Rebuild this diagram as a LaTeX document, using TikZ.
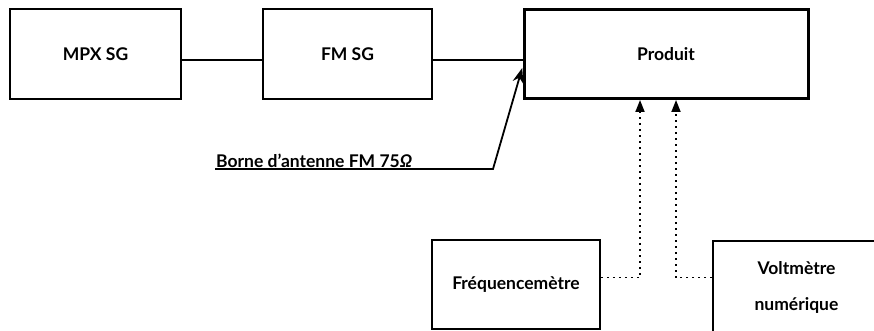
\documentclass[tikz,border=0pt]{standalone}
\usepackage{fontspec}
\setmainfont{Lato}
\usepackage{tikz}
\usetikzlibrary{arrows.meta,positioning}
\tikzset{
  unit box/.style={draw, line width=1.8pt, align=center, font=\fontsize{17.5}{36}\selectfont\bfseries, inner sep=0pt},
  dut box/.style={draw, line width=3pt, align=center, font=\fontsize{17.5}{24}\selectfont\bfseries, inner sep=0pt},
  sig line/.style={line width=1.8pt},
  ant arrow/.style={-{Stealth[length=15pt, width=11pt]}, line width=1.8pt, shorten >=1pt},
  meas arrow/.style={-{Triangle[length=12pt, width=9pt]}, line width=1.8pt, dash pattern=on 1.8pt off 4.2pt},
  ant label/.style={font=\fontsize{17.5}{24}\selectfont\bfseries, inner sep=1pt, anchor=south west},
}
\begin{document}
\begin{tikzpicture}[x=1pt, y=-1pt]
  \useasboundingbox (0,0) rectangle (874,331);
  % signal chain
  \node[unit box, minimum width=171pt, minimum height=90pt] (mpx) at (95.5,54) {MPX SG};
  \node[unit box, minimum width=169pt, minimum height=90pt] (fmsg) at (347.5,54) {FM SG};
  \node[dut box, minimum width=284pt, minimum height=89pt] (prod) at (666,54) {Produit};
  \draw[sig line] ([yshift=-6pt]mpx.east) -- ([yshift=-6pt]fmsg.west);
  \draw[sig line] ([yshift=-6pt]fmsg.east) -- ([yshift=-6pt]prod.west);
  % antenna input
  \node[ant label] (antlbl) at (215,169) {Borne d'antenne FM 75\textit{Ω}};
  \coordinate (bend) at (493,169);
  \draw[ant arrow] (antlbl.south west) -- (bend) -- ([yshift=-13pt]prod.west);
  % instruments
  \node[unit box, minimum width=168pt, minimum height=89pt] (freq) at (516,284.5) {Fréquencemètre};
  \node[unit box, minimum width=167pt, minimum height=93pt] (volt) at (796.5,287.5) {Voltmètre\\numérique};
  \draw[meas arrow] ([yshift=7pt]freq.east) -| ([xshift=-26pt]prod.south);
  \draw[meas arrow] ([yshift=10pt]volt.west) -| ([xshift=10pt]prod.south);
\end{tikzpicture}
\end{document}
